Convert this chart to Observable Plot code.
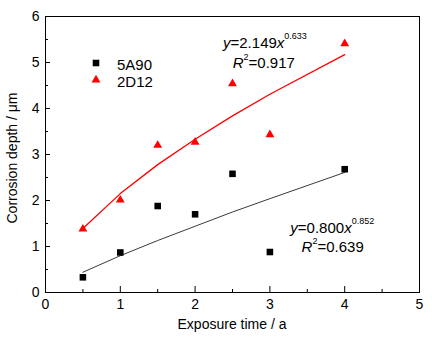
<!DOCTYPE html>
<html><head><meta charset="utf-8">
<script src="https://cdn.jsdelivr.net/npm/d3@7"></script>
<script src="https://cdn.jsdelivr.net/npm/@observablehq/plot@0.6"></script>
<style>
body{margin:0;background:#fff}
svg{font-family:"Liberation Sans",Arial,sans-serif}
</style>
</head><body><div id="chart"></div><script>
const years = [0.5, 1, 1.5, 2, 2.5, 3, 4];
const depth5A90 = [0.33, 0.87, 1.88, 1.70, 2.58, 0.88, 2.68];
const depth2D12 = [1.38, 2.01, 3.20, 3.27, 4.54, 3.43, 5.41];
const fit5A90 = [0.44, 0.80, 1.13, 1.44, 1.75, 2.04, 2.61];
const fit2D12 = [1.39, 2.15, 2.78, 3.33, 3.84, 4.31, 5.17];
const xTicks = [0, 1, 2, 3, 4, 5];
const xMinor = [0.5, 1.5, 2.5, 3.5, 4.5];
const yTicks = [0, 1, 2, 3, 4, 5, 6];
const yMinor = [0.5, 1.5, 2.5, 3.5, 4.5, 5.5];
const seriesNames = ["5A90", "2D12"];
const xLabel = "Exposure time / a";
const yLabel = "Corrosion depth / μm";
const annotations = [
  {series: "2D12", coef: "2.149", exp: "0.633", r2: "0.917", x1: 2.38, y1: 5.31, x2: 2.51, y2: 4.88},
  {series: "5A90", coef: "0.800", exp: "0.852", r2: "0.639", x1: 3.28, y1: 1.29, x2: 3.43, y2: 0.865}
];

const rows = (ys) => years.map((x, i) => ({x, y: ys[i]}));
const fmt = d => String(d);

const plot = Plot.plot({
  width: 432, height: 340,
  marginLeft: 45, marginRight: 13, marginTop: 16, marginBottom: 48,
  style: {fontFamily: '"Liberation Sans", Arial, sans-serif', fontSize: "14px", color: "#000", background: "#fff"},
  x: {domain: [0, 5]},
  y: {domain: [0, 6]},
  marks: [
    Plot.axisX({ticks: xTicks, tickFormat: fmt, tickSize: 0, tickPadding: 7, fontSize: 14, label: null}),
    Plot.axisX({ticks: xTicks, tickSize: -6, text: null, label: null, strokeWidth: 1}),
    Plot.axisX({ticks: xMinor, tickSize: -3, text: null, label: null, strokeWidth: 1}),
    Plot.axisY({ticks: yTicks, tickFormat: fmt, tickSize: 0, tickPadding: 6, fontSize: 14, label: null}),
    Plot.axisY({ticks: yTicks, tickSize: -5, text: null, label: null, strokeWidth: 1}),
    Plot.axisY({ticks: yMinor, tickSize: -3, text: null, label: null, strokeWidth: 1}),
    Plot.frame({stroke: "#000", strokeWidth: 1}),
    Plot.line(rows(fit2D12), {x: "x", y: "y", stroke: "#f00", strokeWidth: 1.3}),
    Plot.line(rows(fit5A90), {x: "x", y: "y", stroke: "#222", strokeWidth: 0.9}),
    Plot.dot(rows(depth5A90), {x: "x", y: "y", symbol: "square", fill: "#000", r: 3.7}),
    Plot.dot(rows(depth2D12), {x: "x", y: "y", symbol: "triangle", fill: "#f00", r: 3.3})
  ]
});
document.getElementById("chart").appendChild(plot);

const svg = d3.select(plot);
const sx = plot.scale("x"), sy = plot.scale("y");

// axis labels
svg.append("text").attr("x", 232).attr("y", 329).attr("text-anchor", "middle")
  .attr("font-size", 14).attr("fill", "#000").text(xLabel);
svg.append("text").attr("transform", "translate(17,158) rotate(-90)").attr("text-anchor", "middle")
  .attr("font-size", 14).attr("fill", "#000").text(yLabel);

// legend
const legend = [
  {name: seriesNames[0], sym: d3.symbolSquare, size: Math.PI * 3.7 * 3.7, color: "#000", cy: 63, ty: 69.5},
  {name: seriesNames[1], sym: d3.symbolTriangle, size: Math.PI * 3.3 * 3.3, color: "#f00", cy: 80, ty: 86.5}
];
legend.forEach(d => {
  svg.append("path").attr("d", d3.symbol(d.sym, d.size)()).attr("fill", d.color)
    .attr("transform", `translate(96,${d.cy})`);
  svg.append("text").attr("x", 117).attr("y", d.ty).attr("text-anchor", "start")
    .attr("font-size", 15).attr("fill", "#000").text(d.name);
});

// fit annotations
annotations.forEach(a => {
  const t1 = svg.append("text").attr("x", sx.apply(a.x1)).attr("y", sy.apply(a.y1))
    .attr("text-anchor", "start").attr("font-size", 15).attr("fill", "#000");
  t1.append("tspan").attr("font-style", "italic").text("y");
  t1.append("tspan").text("=" + a.coef);
  t1.append("tspan").attr("font-style", "italic").text("x");
  t1.append("tspan").attr("font-size", 9).attr("dy", -9).text(a.exp);
  const t2 = svg.append("text").attr("x", sx.apply(a.x2)).attr("y", sy.apply(a.y2))
    .attr("text-anchor", "start").attr("font-size", 15).attr("fill", "#000");
  t2.append("tspan").attr("font-style", "italic").text("R");
  t2.append("tspan").attr("font-size", 9).attr("dy", -8).text("2");
  t2.append("tspan").attr("dy", 8).text("=" + a.r2);
});
</script></body></html>
